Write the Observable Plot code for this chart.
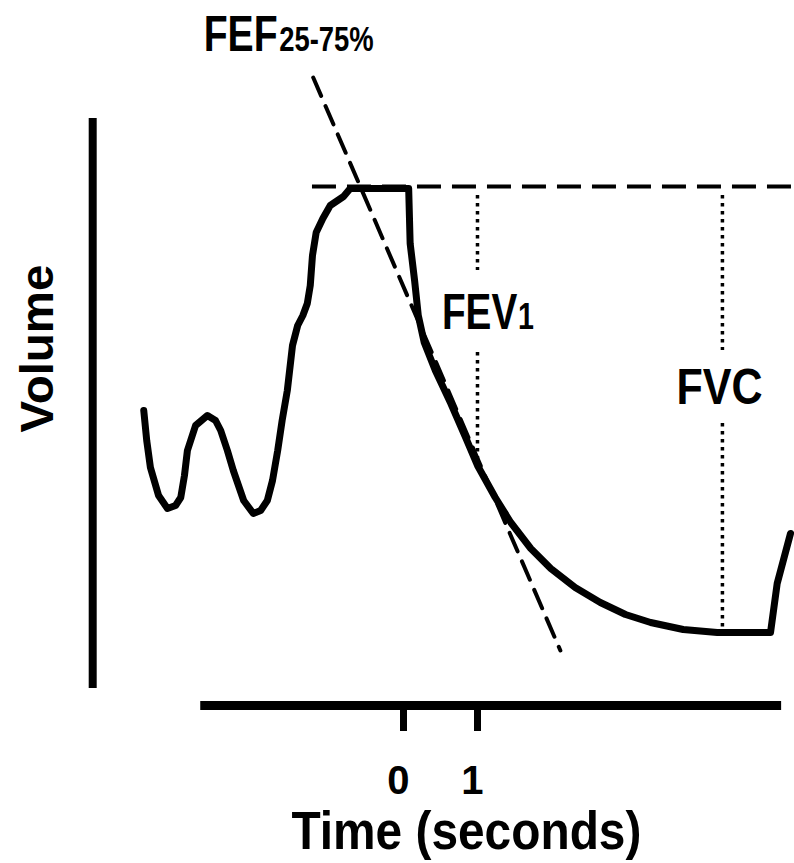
<!DOCTYPE html>
<html>
<head>
<meta charset="utf-8">
<script src="https://cdn.jsdelivr.net/npm/d3@7"></script>
<script src="https://cdn.jsdelivr.net/npm/@observablehq/plot@0.6"></script>
<style>
  html, body { margin: 0; padding: 0; background: #fff; }
  #chart svg { display: block; }
</style>
</head>
<body>
<div id="chart"></div>
<script>
// ---- Spirogram trace (time in seconds, volume in arbitrary litres) ----
const traceTime = [-3.51,-3.47,-3.42,-3.31,-3.19,-3.08,-3.01,-2.96,-2.92,-2.81,-2.65,-2.54,-2.47,-2.38,-2.30,-2.16,-2.03,-1.93,-1.84,-1.77,-1.70,-1.64,-1.57,-1.50,-1.43,-1.36,-1.30,-1.26,-1.23,-1.18,-1.09,-0.99,-0.89,-0.81,-0.72,0.07,0.09,0.15,0.20,0.28,0.43,0.64,0.84,1.00,1.24,1.45,1.72,1.99,2.32,2.66,3.00,3.34,3.78,4.24,4.96,5.05,5.23];
const traceVolume = [2.95,2.65,2.38,2.10,1.97,2.00,2.08,2.30,2.55,2.80,2.90,2.85,2.75,2.55,2.35,2.05,1.92,1.95,2.05,2.25,2.55,2.85,3.15,3.60,3.80,3.90,4.02,4.20,4.50,4.73,4.87,5.00,5.05,5.09,5.17,5.17,4.62,4.25,3.90,3.63,3.35,3.02,2.68,2.40,2.08,1.83,1.57,1.37,1.18,1.03,0.91,0.83,0.76,0.73,0.73,1.22,1.72];

// ---- Maximal inspiration reference (dashed horizontal) ----
const maxVolume = 5.19;
const maxVolumeTime = [-1.23, 5.28];

// ---- FEF 25-75% slope (dashed) ----
const fefTime = [-1.22, 2.12];
const fefVolume = [6.28, 0.55];

// ---- FEV1 / FVC dotted markers ----
const markerTime = [1, 1, 4.31, 4.31];
const markerTop = [5.10, 3.53, 5.10, 2.82];
const markerBottom = [4.35, 2.40, 3.55, 0.73];

// ---- Annotations (main text + subscript) ----
const labelText = ["FEF", "FEV", "FVC"];
const labelSub = ["25-75%", "1", ""];
const labelTime = [-2.70, 0.52, 3.69];
const labelVolume = [6.55, 3.77, 3.02];

// ---- Axes ----
const xTicks = [0, 1];
const xTickLabels = ["0", "1"];
const xAxisSpan = [-2.74, 5.11];
const yAxisTime = -4.20;
const yAxisSpan = [0.17, 5.87];
const xTitle = "Time (seconds)";
const yTitle = "Volume";

const trace = traceTime.map((t, i) => ({t, v: traceVolume[i]}));
const fef = fefTime.map((t, i) => ({t, v: fefVolume[i]}));
const markers = markerTime.map((t, i) => ({t, y1: markerTop[i], y2: markerBottom[i]}));
const labels = labelText.map((s, i) => ({s, sub: labelSub[i], t: labelTime[i], v: labelVolume[i]}));

const font = "'Liberation Sans', Arial, Helvetica, sans-serif";

const chart = Plot.plot({
  width: 794,
  height: 863,
  marginTop: 0,
  marginLeft: 0,
  marginRight: 0,
  marginBottom: 158,
  x: {domain: [-5.446, 5.284], axis: null},
  y: {domain: [0, 7.05], axis: null},
  style: {fontFamily: font, background: "#fff", color: "#000", overflow: "visible"},
  marks: [
    // axes
    Plot.ruleX([yAxisTime], {x: d => d, y1: yAxisSpan[0], y2: yAxisSpan[1], stroke: "#000", strokeWidth: 8}),
    Plot.ruleY([0], {y: d => d, x1: xAxisSpan[0], x2: xAxisSpan[1], stroke: "#000", strokeWidth: 9}),
    Plot.ruleX(xTicks, {x: d => d, y1: 0, y2: -0.26, stroke: "#000", strokeWidth: 7}),
    Plot.text(xTicks, {x: d => d, y: -0.88, text: (d, i) => xTickLabels[i], fontSize: 40, fontWeight: "bold", lineAnchor: "bottom", textAnchor: "middle", dx: -5, fill: "#000"}),
    Plot.text([xTitle], {x: 0.85, y: -1.43, text: d => d, fontSize: 54, fontWeight: "bold", lineAnchor: "bottom", textAnchor: "middle", fill: "#000"}),
    Plot.text([yTitle], {x: -4.73, y: 3.57, text: d => d, fontSize: 47, fontWeight: "bold", rotate: -90, lineAnchor: "bottom", textAnchor: "middle", fill: "#000"}),
    // reference lines
    Plot.ruleY([maxVolume], {y: d => d, x1: maxVolumeTime[0], x2: maxVolumeTime[1], stroke: "#000", strokeWidth: 4, strokeDasharray: "24,11"}),
    Plot.line(fef, {x: "t", y: "v", stroke: "#000", strokeWidth: 4, strokeDasharray: "20,11"}),
    Plot.ruleX(markers, {x: "t", y1: "y1", y2: "y2", stroke: "#000", strokeWidth: 3.5, strokeDasharray: "3.5,4.5"}),
    // trace
    Plot.line(trace, {x: "t", y: "v", stroke: "#000", strokeWidth: 7, strokeLinejoin: "round", strokeLinecap: "round"}),
    // annotations
    Plot.text(labels, {x: "t", y: "v", text: "s", fontSize: 50, fontWeight: "bold", lineAnchor: "bottom", textAnchor: "start", fill: "#000"})
  ]
});

// Append subscripts as tspans and condense lettering to match the reference
const SVGNS = "http://www.w3.org/2000/svg";
const subSize = {"25-75%": 35, "1": 37};
const fit = {"FEF": 170, "FEV": 92, "FVC": 86, "Time (seconds)": 350, "Volume": 168};
chart.querySelectorAll("text").forEach(el => {
  const base = el.textContent;
  const L = fit[base];
  const lab = labels.find(d => d.s === base);
  if (lab && lab.sub) {
    const ts = document.createElementNS(SVGNS, "tspan");
    ts.setAttribute("font-size", subSize[lab.sub]);
    ts.setAttribute("dx", base === "FEF" ? 2 : 1);
    ts.textContent = lab.sub;
    el.appendChild(ts);
  }
  if (L) {
    el.setAttribute("textLength", L);
    el.setAttribute("lengthAdjust", "spacingAndGlyphs");
  }
});

document.getElementById("chart").appendChild(chart);
</script>
</body>
</html>
